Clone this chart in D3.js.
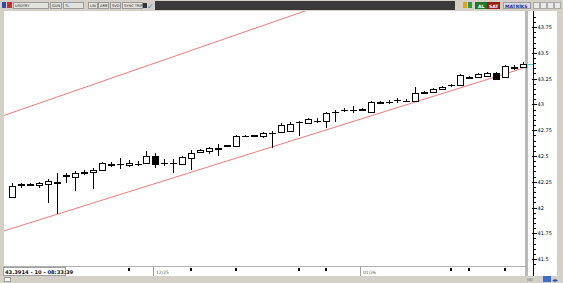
<!DOCTYPE html>
<html>
<head>
<meta charset="utf-8">
<script src="https://cdn.jsdelivr.net/npm/d3@7"></script>
<style>
  body { margin: 0; background: #fff; }
  svg { display: block; }
</style>
</head>
<body>
<div id="chart"></div>
<script>
// USDTRY günlük mumlar (okunan değerler)
const OPEN  = [42.104,42.221,42.231,42.221,42.231,42.250,42.319,42.299,42.338,42.348,
               42.367,42.426,42.426,42.416,42.426,42.435,42.504,42.435,42.435,42.426,
               42.484,42.543,42.552,42.572,42.606,42.601,42.698,42.703,42.689,42.718,
               42.728,42.747,42.825,42.815,42.844,42.844,42.922,42.942,42.942,42.957,
               42.922,43.025,43.020,43.039,43.029,43.029,43.122,43.117,43.146,43.185,
               43.185,43.268,43.263,43.273,43.302,43.263,43.365,43.361];
const HIGH  = [42.241,42.241,42.241,42.250,42.280,42.338,42.338,42.358,42.367,42.387,
               42.445,42.445,42.484,42.465,42.455,42.552,42.533,42.474,42.474,42.504,
               42.562,42.572,42.591,42.620,42.611,42.708,42.703,42.708,42.728,42.747,
               42.815,42.825,42.844,42.864,42.864,42.922,42.942,42.961,42.981,42.961,
               43.029,43.029,43.039,43.059,43.049,43.166,43.127,43.156,43.176,43.195,
               43.292,43.273,43.302,43.312,43.312,43.380,43.380,43.409];
const LOW   = [42.104,42.192,42.212,42.192,42.046,41.939,42.241,42.163,42.319,42.182,
               42.367,42.397,42.377,42.397,42.406,42.435,42.387,42.406,42.338,42.426,
               42.367,42.533,42.523,42.504,42.591,42.601,42.693,42.689,42.679,42.582,
               42.728,42.747,42.698,42.806,42.815,42.776,42.825,42.922,42.913,42.942,
               42.922,43.010,43.000,43.010,43.020,43.029,43.107,43.117,43.146,43.166,
               43.185,43.253,43.263,43.273,43.244,43.263,43.331,43.361];
const CLOSE = [42.212,42.231,42.221,42.241,42.260,42.241,42.309,42.338,42.348,42.367,
               42.435,42.416,42.426,42.435,42.426,42.504,42.426,42.435,42.435,42.494,
               42.533,42.562,42.582,42.582,42.596,42.698,42.698,42.693,42.718,42.718,
               42.796,42.806,42.825,42.854,42.844,42.913,42.922,42.942,42.942,42.947,
               43.020,43.015,43.020,43.039,43.029,43.107,43.112,43.146,43.166,43.185,
               43.283,43.258,43.292,43.302,43.244,43.370,43.355,43.3914];

// trend kanalı: [mum sırası, fiyat]
const TREND_LOW  = [[-0.9, 41.773], [57, 43.351]];
const TREND_HIGH = [[-0.9, 42.893], [57, 44.64]];

const Y_TICKS = [41.5, 41.75, 42, 42.25, 42.5, 42.75, 43, 43.25, 43.5, 43.75];
const DAY_MARKS = [13, 20, 25, 32, 35, 49, 51, 55];
const MONTH_IDX = [16, 39];
const MONTH_LABELS = ["12/25", "01/26"];
const LAST = 43.3914;
const STATUS = "43.3914 - 10 - 08:33:39";

const W = 563, H = 283;
const PL = 4, PT = 11, PR = 527, PB = 266;
const FONT = "'DejaVu Sans', sans-serif";

const svg = d3.select("#chart").append("svg")
  .attr("width", W).attr("height", H)
  .attr("shape-rendering", "crispEdges");

// çerçeve
svg.append("rect").attr("width", W).attr("height", H).attr("fill", "#d4d0c8");
svg.append("rect").attr("x", PL).attr("y", PT).attr("width", 557 - PL).attr("height", 276 - PT).attr("fill", "#fff");
svg.append("line").attr("x1", PR - 0.5).attr("x2", PR - 0.5).attr("y1", PT).attr("y2", 276)
  .attr("stroke", "#b8b8b8").attr("stroke-width", 3);
svg.append("line").attr("x1", PL).attr("x2", PR).attr("y1", PB + 0.5).attr("y2", PB + 0.5).attr("stroke", "#b0b0b0");

const n = CLOSE.length;
const x = d3.scaleLinear().domain([0, n - 1]).range([12, 523]);
const y = d3.scaleLinear().domain([41.433, 43.906]).range([PB, PT]);

svg.append("clipPath").attr("id", "plotClip").append("rect")
  .attr("x", PL).attr("y", PT).attr("width", PR - PL).attr("height", PB - PT);
const plot = svg.append("g").attr("clip-path", "url(#plotClip)");

// trend çizgileri
const tline = d3.line().x(d => x(d[0])).y(d => y(d[1]));
[TREND_LOW, TREND_HIGH].forEach(t => {
  plot.append("path").datum(t).attr("d", tline).attr("fill", "none")
    .attr("stroke", "#f07a7a").attr("stroke-width", 1).attr("shape-rendering", "auto");
});

// mumlar
const bw = 6;
const candles = plot.selectAll("g.c").data(d3.range(n)).join("g").attr("class", "c");
candles.append("line")
  .attr("x1", i => Math.round(x(i)) + 0.5).attr("x2", i => Math.round(x(i)) + 0.5)
  .attr("y1", i => Math.round(y(HIGH[i]))).attr("y2", i => Math.round(y(LOW[i])))
  .attr("stroke", "#000");
candles.append("rect")
  .attr("x", i => Math.round(x(i)) - bw / 2 + 0.5)
  .attr("y", i => Math.round(y(Math.max(OPEN[i], CLOSE[i]))) + 0.5)
  .attr("width", bw)
  .attr("height", i => Math.max(0.01, Math.round(y(Math.min(OPEN[i], CLOSE[i]))) - Math.round(y(Math.max(OPEN[i], CLOSE[i])))))
  .attr("fill", i => CLOSE[i] < OPEN[i] ? "#000" : "#fff")
  .attr("stroke", "#000");

// son fiyat işareti
svg.append("line").attr("x1", PR + 1).attr("x2", 533).attr("y1", Math.round(y(LAST)) + 0.5).attr("y2", Math.round(y(LAST)) + 0.5)
  .attr("stroke", "#4cc8d8");

// sağ eksen
const axisG = svg.append("g").attr("transform", "translate(533.5,0)");
axisG.append("line").attr("y1", PT).attr("y2", 276).attr("stroke", "#000");
const minor = d3.range(41.45, 43.9, 0.05).filter(v => y(v) > PT && y(v) < 276);
axisG.selectAll("line.mn").data(minor).join("line").attr("class", "mn")
  .attr("x1", 0).attr("x2", 2).attr("y1", v => Math.round(y(v)) + 0.5).attr("y2", v => Math.round(y(v)) + 0.5)
  .attr("stroke", "#000");
axisG.selectAll("line.mj").data(Y_TICKS).join("line").attr("class", "mj")
  .attr("x1", -2).attr("x2", 3).attr("y1", v => Math.round(y(v)) + 0.5).attr("y2", v => Math.round(y(v)) + 0.5)
  .attr("stroke", "#000");
axisG.selectAll("text").data(Y_TICKS).join("text")
  .attr("x", 4).attr("y", v => y(v) + 2)
  .attr("font-family", FONT).attr("font-size", 5).attr("fill", "#000")
  .text(v => String(+v.toFixed(2)));

// alt zaman şeridi
svg.selectAll("rect.dm").data(DAY_MARKS).join("rect").attr("class", "dm")
  .attr("x", i => Math.round(x(i)) - 1).attr("y", 268).attr("width", 2).attr("height", 3).attr("fill", "#000");
const months = svg.selectAll("g.mo").data(MONTH_IDX).join("g").attr("class", "mo");
months.append("line")
  .attr("x1", i => Math.round(x(i)) - 1.5).attr("x2", i => Math.round(x(i)) - 1.5)
  .attr("y1", 267).attr("y2", 276).attr("stroke", "#a0a0a0");
months.append("text")
  .attr("x", i => Math.round(x(i)) + 1).attr("y", 274)
  .attr("font-family", FONT).attr("font-size", 4.5).attr("fill", "#555")
  .text((i, k) => MONTH_LABELS[k]);

svg.append("rect").attr("x", 3.5).attr("y", 267.5).attr("width", 62).attr("height", 8)
  .attr("fill", "#fff").attr("stroke", "#a0a0a0");
svg.append("text").attr("x", 5).attr("y", 274).attr("font-family", FONT)
  .attr("font-size", 5.2).attr("font-weight", "bold").attr("fill", "#111").text(STATUS);
svg.append("rect").attr("x", 4.5).attr("y", 277.5).attr("width", 6).attr("height", 4).attr("fill", "#fff").attr("stroke", "#999");

// alt sağ simgeler
svg.append("text").attr("x", 527).attr("y", 281).attr("font-family", FONT).attr("font-size", 5).attr("fill", "#666").text("ıııı");
svg.append("rect").attr("x", 543).attr("y", 276).attr("width", 8).attr("height", 6).attr("fill", "#3a6fc8");
svg.append("text").attr("x", 552).attr("y", 282).attr("font-family", FONT).attr("font-size", 6).attr("fill", "#2050b0").text("◂▸");

// üst araç çubuğu
const tb = svg.append("g");
tb.append("rect").attr("width", W).attr("height", PT).attr("fill", "#d4d0c8");
tb.append("rect").attr("x", 155).attr("y", 1).attr("width", 300).attr("height", 9).attr("fill", "#3a3a3a");
tb.append("rect").attr("x", 2).attr("y", 2).attr("width", 4).attr("height", 6).attr("fill", "#2b4fa8");
tb.append("rect").attr("x", 7).attr("y", 2).attr("width", 5).attr("height", 6).attr("fill", "#c43030");
const boxes = [
  { x: 13, w: 35, t: "USDTRY" }, { x: 50, w: 11, t: "GÜN" }, { x: 63, w: 20, t: "TL" },
  { x: 88, w: 9, t: "LIN" }, { x: 98, w: 10, t: "ARR" }, { x: 110, w: 10, t: "SVD" },
  { x: 122, w: 20, t: "SYNC TRIP" }
];
const bx = tb.selectAll("g.b").data(boxes).join("g").attr("class", "b");
bx.append("rect").attr("x", d => d.x + 0.5).attr("y", 2.5).attr("width", d => d.w).attr("height", 6)
  .attr("fill", "#e4e2dc").attr("stroke", "#9a9a9a");
bx.append("text").attr("x", d => d.x + 2).attr("y", 7.3).attr("font-family", FONT).attr("font-size", 3.6)
  .attr("fill", "#222").text(d => d.t);
tb.append("rect").attr("x", 143).attr("y", 3).attr("width", 4).attr("height", 5).attr("fill", "#333");
tb.append("text").attr("x", 147).attr("y", 9).attr("font-family", FONT).attr("font-size", 8).attr("fill", "#3a8ad8").text("✓");
tb.append("rect").attr("x", 463).attr("y", 2).attr("width", 4).attr("height", 6).attr("fill", "#e0a020");
tb.append("rect").attr("x", 468).attr("y", 2).attr("width", 4).attr("height", 6).attr("fill", "#2a9a4a");
tb.append("rect").attr("x", 475).attr("y", 2).attr("width", 12).attr("height", 7).attr("fill", "#1d7a2a");
tb.append("text").attr("x", 478).attr("y", 7.5).attr("font-family", FONT).attr("font-size", 4.5).attr("font-weight", "bold").attr("fill", "#fff").text("AL");
tb.append("rect").attr("x", 487).attr("y", 2).attr("width", 13).attr("height", 7).attr("fill", "#9a1a1a");
tb.append("text").attr("x", 489).attr("y", 7.5).attr("font-family", FONT).attr("font-size", 4.5).attr("font-weight", "bold").attr("fill", "#fff").text("SAT");
tb.append("rect").attr("x", 503.5).attr("y", 2.5).attr("width", 27).attr("height", 6).attr("fill", "#dcdcec").attr("stroke", "#9a9a9a");
tb.append("text").attr("x", 505).attr("y", 7.5).attr("font-family", FONT).attr("font-size", 4.5).attr("font-weight", "bold").attr("fill", "#26307a").text("MATRİKS");
tb.selectAll("rect.wb").data([533, 540, 547, 554]).join("rect").attr("class", "wb")
  .attr("x", d => d + 0.5).attr("y", 2.5).attr("width", 6).attr("height", 6).attr("fill", "#e8e8e8").attr("stroke", "#aaa");
</script>
</body>
</html>
